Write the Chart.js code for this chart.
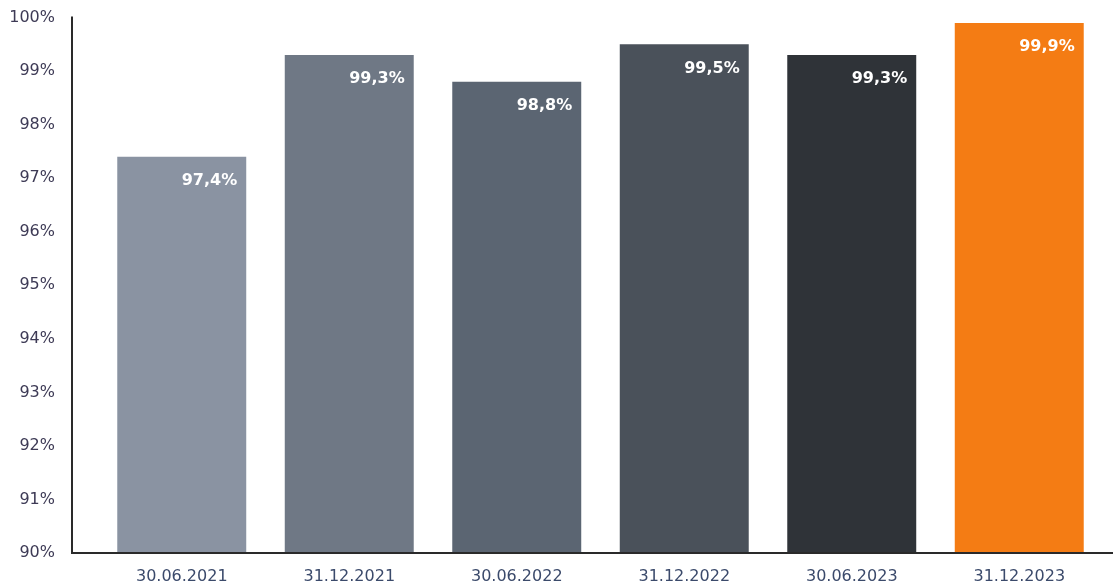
<!DOCTYPE html>
<html>
<head>
<meta charset="utf-8">
<script src="https://cdn.jsdelivr.net/npm/chart.js@4"></script>
<style>
  html, body { margin: 0; padding: 0; background: #fff; }
  #wrap { width: 1113px; height: 588px; position: relative; }
</style>
</head>
<body>
<div id="wrap"><canvas id="chart"></canvas></div>
<script>
// values
const labels = ["30.06.2021", "31.12.2021", "30.06.2022", "31.12.2022", "30.06.2023", "31.12.2023"];
const values = [97.4, 99.3, 98.8, 99.5, 99.3, 99.9];
const barColors = ["#8a93a2", "#6f7885", "#5b6572", "#4a515a", "#2f3338", "#f47c14"];
const yTicks = [90, 91, 92, 93, 94, 95, 96, 97, 98, 99, 100];

const AXIS_GAP = 26;

// axis lines sit a bit left of the first bar, like the source
const axisLines = {
  id: "axisLines",
  afterDraw(chart) {
    const { ctx, chartArea } = chart;
    const x = chartArea.left - AXIS_GAP;
    ctx.save();
    ctx.strokeStyle = "#2a2a2a";
    ctx.lineWidth = 2;
    ctx.beginPath();
    ctx.moveTo(x, chartArea.top - 1);
    ctx.lineTo(x, chartArea.bottom);
    ctx.lineTo(chart.width, chartArea.bottom);
    ctx.stroke();
    ctx.restore();
  },
};

// value labels inside the top right of each bar
const barLabels = {
  id: "barLabels",
  afterDatasetsDraw(chart) {
    const { ctx } = chart;
    const meta = chart.getDatasetMeta(0);
    ctx.save();
    ctx.fillStyle = "#ffffff";
    ctx.font = "bold 16px 'DejaVu Sans'";
    ctx.textAlign = "right";
    ctx.textBaseline = "middle";
    meta.data.forEach((bar, i) => {
      const txt = values[i].toFixed(1).replace(".", ",") + "%";
      ctx.fillText(txt, bar.x + bar.width / 2 - 9, bar.y + 24);
    });
    ctx.restore();
  },
};

new Chart(document.getElementById("chart"), {
  type: "bar",
  data: {
    labels: labels,
    datasets: [{
      data: values,
      backgroundColor: barColors,
      barPercentage: 0.77,
      categoryPercentage: 1.0,
      base: 90,
    }],
  },
  options: {
    responsive: true,
    maintainAspectRatio: false,
    animation: false,
    layout: { padding: { top: 2, right: 10, left: 0, bottom: 0 } },
    plugins: { legend: { display: false }, tooltip: { enabled: false } },
    scales: {
      x: {
        grid: { display: false, drawTicks: false },
        border: { display: false },
        afterFit(scale) {
          scale.height = 35;
        },
        ticks: {
          color: "#3b4a6b",
          font: { family: "'DejaVu Sans'", size: 16 },
          padding: 14,
          maxRotation: 0,
        },
      },
      y: {
        min: yTicks[0],
        max: yTicks[yTicks.length - 1],
        afterBuildTicks(scale) {
          scale.ticks = yTicks.map((v) => ({ value: v }));
        },
        afterFit(scale) {
          scale.width = 98;
        },
        grid: {
          display: true,
          drawOnChartArea: false,
          drawTicks: true,
          tickLength: 35,
          tickColor: "rgba(0,0,0,0)",
        },
        border: { display: false },
        ticks: {
          color: "#3d3a55",
          font: { family: "'DejaVu Sans'", size: 16 },
          padding: 8,
          callback: (v) => v + "%",
        },
      },
    },
  },
  plugins: [axisLines, barLabels],
});
</script>
</body>
</html>
